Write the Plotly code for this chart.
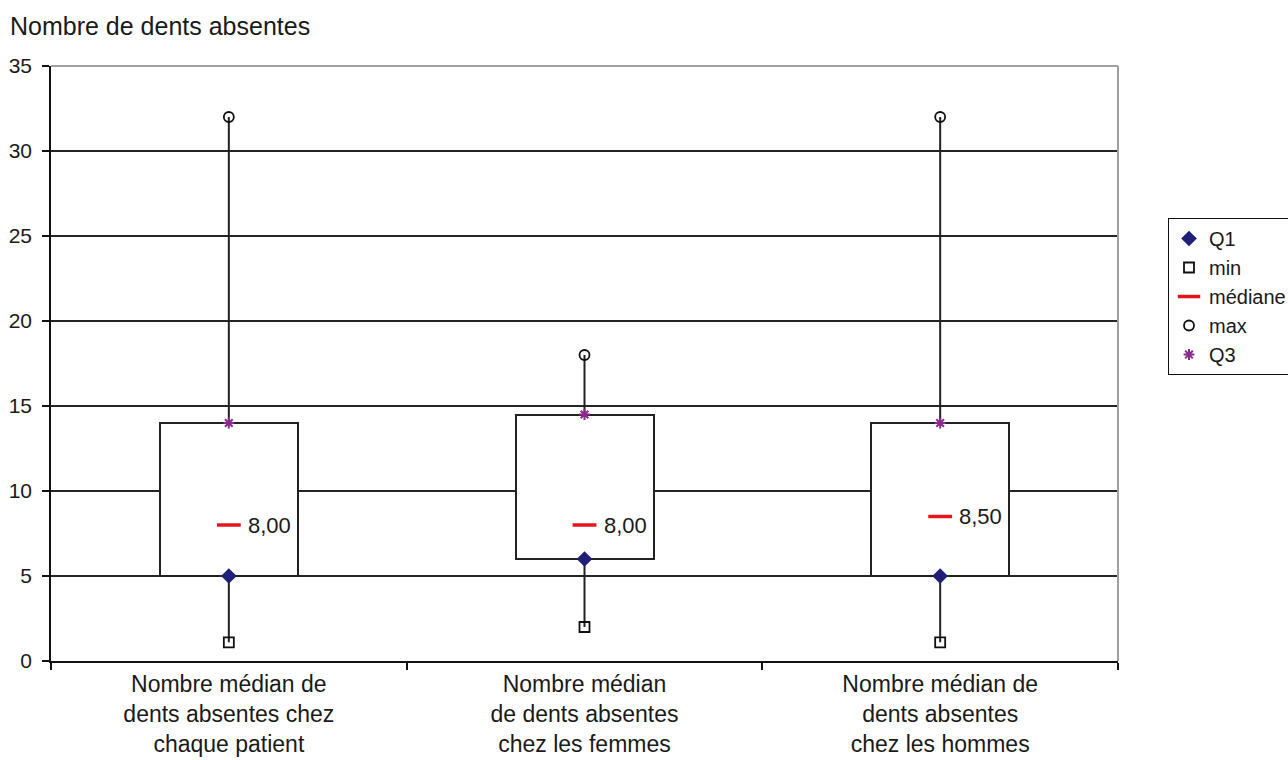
import plotly.graph_objects as go

categories = [
    "Nombre médian de<br>dents absentes chez<br>chaque patient",
    "Nombre médian<br>de dents absentes<br>chez les femmes",
    "Nombre médian de<br>dents absentes<br>chez les hommes",
]
q1 = [5, 6, 5]
mins = [1.1, 2, 1.1]
medians = [8, 8, 8.5]
maxs = [32, 18, 32]
q3 = [14, 14.5, 14]
y_ticks = [0, 5, 10, 15, 20, 25, 30, 35]

FONT = "Liberation Sans, Arial, sans-serif"
TXT = "#1a1a1a"

fig = go.Figure()

# whiskers (min->Q1 and Q3->max)
wx, wy = [], []
for c, lo, a, b, hi in zip(categories, mins, q1, q3, maxs):
    wx += [c, c, None, c, c, None]
    wy += [lo, a, None, b, hi, None]
fig.add_trace(go.Scatter(x=wx, y=wy, mode="lines", line=dict(color="#222222", width=2),
                         showlegend=False, hoverinfo="skip", connectgaps=False))

# boxes Q1->Q3
fig.add_trace(go.Bar(x=categories, y=[b - a for a, b in zip(q1, q3)], base=q1,
                     width=0.388, marker=dict(color="white", line=dict(color="#222222", width=2)),
                     showlegend=False, hoverinfo="skip"))

fig.add_trace(go.Scatter(x=categories, y=q1, mode="markers", name="Q1",
                         marker=dict(symbol="diamond", size=12, color="#1f1f78")))
fig.add_trace(go.Scatter(x=categories, y=mins, mode="markers", name="min",
                         marker=dict(symbol="square-open", size=10, color="#111111", line=dict(width=1.8))))
fig.add_trace(go.Scatter(x=categories, y=medians, mode="markers", name="médiane",
                         marker=dict(symbol="line-ew", size=17, color="#e8141b",
                                     line=dict(color="#e8141b", width=3.5))))
fig.add_trace(go.Scatter(x=categories, y=maxs, mode="markers", name="max",
                         marker=dict(symbol="circle-open", size=10, color="#111111", line=dict(width=1.8))))
fig.add_trace(go.Scatter(x=categories, y=q3, mode="markers", name="Q3",
                         marker=dict(symbol="asterisk-open", size=9, color="#8b2a8b",
                                     line=dict(color="#8b2a8b", width=2))))

annotations = [
    dict(x=c, y=m, xref="x", yref="y", text=f"{m:.2f}".replace(".", ","),
         showarrow=False, xanchor="left", yanchor="middle", xshift=17,
         font=dict(family=FONT, size=22, color=TXT))
    for c, m in zip(categories, medians)
]

fig.update_layout(
    width=1288, height=760,
    margin=dict(l=51, r=170, t=66, b=99, autoexpand=False),
    paper_bgcolor="white", plot_bgcolor="white",
    font=dict(family=FONT, color=TXT),
    title=dict(text="Nombre de dents absentes", font=dict(size=25, color=TXT, family=FONT),
               xref="container", x=10 / 1288, xanchor="left",
               yref="container", y=1 - 26 / 760, yanchor="middle"),
    showlegend=True,
    legend=dict(x=(1168 - 51) / 1067, xanchor="left", y=0.7445, yanchor="top",
                bordercolor="#111111", borderwidth=1, bgcolor="white",
                font=dict(size=20, family=FONT, color=TXT),
                traceorder="normal", itemwidth=30),
    bargap=0,
    annotations=annotations,
    xaxis=dict(type="category", range=[-0.5, 2.5], tickson="boundaries",
               ticks="outside", ticklen=7, tickcolor="#111111", tickwidth=1.5,
               showline=True, linecolor="#111111", linewidth=1.5,
               showgrid=False, ticklabelstandoff=2, automargin=False,
               tickfont=dict(size=23, family=FONT, color=TXT)),
    yaxis=dict(range=[0, 35], tickvals=y_ticks, ticks="outside", ticklen=7,
               tickcolor="#111111", tickwidth=1.5,
               showline=True, linecolor="#111111", linewidth=1.5,
               showgrid=True, gridcolor="#262626", gridwidth=1.5, zeroline=False,
               ticklabelstandoff=6, automargin=False,
               tickfont=dict(size=21, family=FONT, color=TXT)),
    shapes=[
        dict(type="line", xref="paper", yref="paper", x0=0, x1=1, y0=1, y1=1,
             line=dict(color="#a0a0a0", width=2), layer="above"),
        dict(type="line", xref="paper", yref="paper", x0=1, x1=1, y0=0, y1=1,
             line=dict(color="#a0a0a0", width=2), layer="above"),
    ],
)

fig.write_html("out.html", config={"displayModeBar": False},
               post_script="document.body.style.margin='0';")
